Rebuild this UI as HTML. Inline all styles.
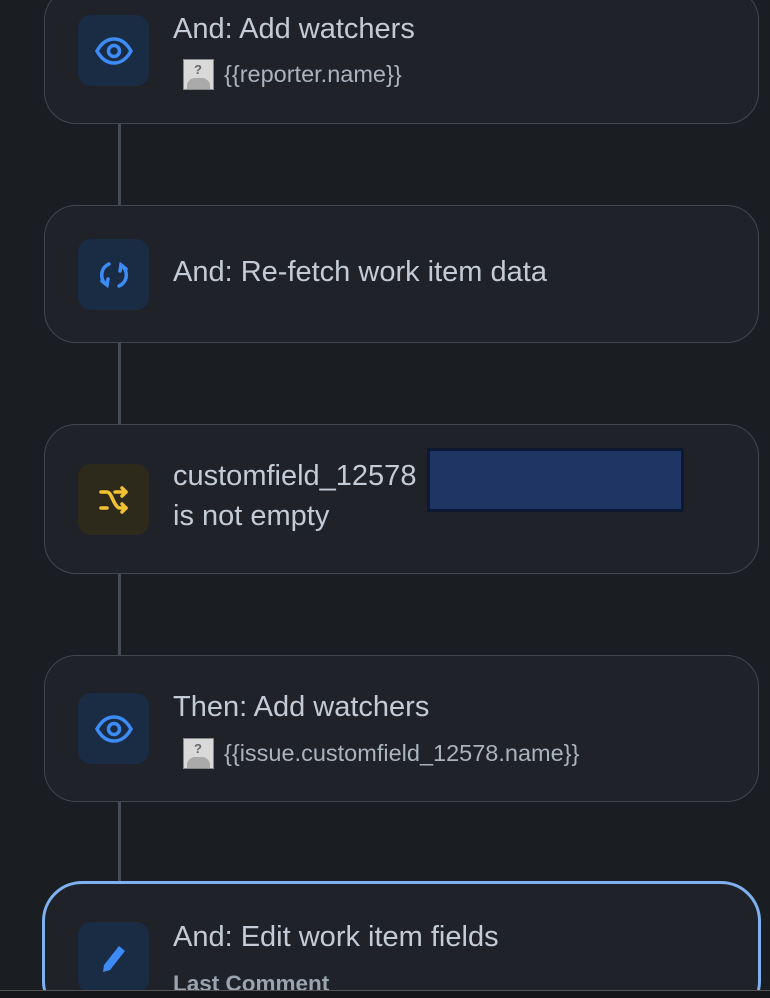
<!DOCTYPE html>
<html style="overflow:hidden;height:998px"><head><meta charset="utf-8"><style>
html,body{overflow:hidden}
body{margin:0;width:770px;height:998px;background:#1a1d21;position:relative;overflow:hidden;font-family:"Liberation Sans",sans-serif;color:#c3ccd6}
.line{position:absolute;left:118px;width:3px;background:#454c55}
.card{position:absolute;left:44px;width:715px;background:#1f2228;border:1.5px solid #41464f;border-radius:32px;box-sizing:border-box}
.ic{position:absolute;left:33px;width:71px;height:71px;border-radius:13px;background:#1a2b44;display:flex;align-items:center;justify-content:center}
.t{position:absolute;left:128px;font-size:29px;white-space:nowrap}
.s{position:absolute;left:138px;font-size:23.5px;color:#aab4bf;display:flex;align-items:center;gap:10px;white-space:nowrap}
.av{width:31px;height:31px;background:#d9d9d9;border:1px solid #888;box-sizing:border-box;position:relative;overflow:hidden;flex:none}
.av:after{content:"?";position:absolute;left:10px;top:2px;font-size:13px;color:#666;font-weight:bold}
.av:before{content:"";position:absolute;left:3px;top:18px;width:23px;height:16px;background:#aaa;border-radius:8px 8px 0 0}
</style></head><body>
<div class="line" style="top:120px;height:90px"></div>
<div class="line" style="top:340px;height:90px"></div>
<div class="line" style="top:570px;height:90px"></div>
<div class="line" style="top:800px;height:85px"></div>

<div class="card" style="top:-12px;height:136px">
<div class="ic" style="top:26px"><svg width="40" height="40" viewBox="0 0 40 40"><path d="M3 20C8 11 14 8 20 8s12 3 17 12c-5 9-11 12-17 12S8 29 3 20z" fill="none" stroke="#3d8cf5" stroke-width="3.5"/><circle cx="20" cy="20" r="5.5" fill="none" stroke="#3d8cf5" stroke-width="3.5"/></svg></div>
<div class="t" style="top:24px">And: Add watchers</div>
<div class="s" style="top:70px"><div class="av"></div>{{reporter.name}}</div>
</div>

<div class="card" style="top:205px;height:138px">
<div class="ic" style="top:33px"><svg width="36" height="36" viewBox="0 0 36 36" fill="none" stroke="#3d8cf5" stroke-width="3.5" stroke-linecap="round"><path d="M13 7A12 12 0 0 0 11 28"/><path d="M23 29A12 12 0 0 0 25 8"/><path d="M6 24l5 4 1-6"/><path d="M30 12l-5-4-1 6"/></svg></div>
<div class="t" style="top:50px">And: Re-fetch work item data</div>
</div>

<div class="card" style="top:424px;height:150px">
<div class="ic" style="top:39px;background:#2e2a1b"><svg width="36" height="36" viewBox="0 0 36 36" fill="none" stroke="#f2c230" stroke-width="3.5" stroke-linecap="round" stroke-linejoin="round"><path d="M5 10h6c5 0 7 16 13 16h6"/><path d="M5 26h6M19 10h11"/><path d="M26 6l4 4-4 4M26 22l4 4-4 4"/></svg></div>
<div class="t" style="top:35px">customfield_12578</div>
<div class="t" style="top:75px">is not empty</div>
<div style="position:absolute;left:382px;top:23px;width:257px;height:64px;background:#0d1833;box-sizing:border-box;border:3px solid #0d1833"><div style="width:100%;height:100%;background:#1f3563"></div></div>
</div>

<div class="card" style="top:655px;height:147px">
<div class="ic" style="top:37px"><svg width="40" height="40" viewBox="0 0 40 40"><path d="M3 20C8 11 14 8 20 8s12 3 17 12c-5 9-11 12-17 12S8 29 3 20z" fill="none" stroke="#3d8cf5" stroke-width="3.5"/><circle cx="20" cy="20" r="5.5" fill="none" stroke="#3d8cf5" stroke-width="3.5"/></svg></div>
<div class="t" style="top:35px">Then: Add watchers</div>
<div class="s" style="top:82px"><div class="av"></div>{{issue.customfield_12578.name}}</div>
</div>

<div class="card" style="top:881px;left:42px;width:719px;height:140px;border:3px solid #7fb1f0;border-radius:40px">
<div class="ic" style="top:38px;left:33px"><svg width="36" height="36" viewBox="0 0 36 36"><path d="M23 6l6 5-15 19-7 2 1-7z" fill="#3d8cf5"/></svg></div>
<div class="t" style="top:37px">And: Edit work item fields</div>
<div style="position:absolute;left:128px;top:87px;font-size:22.5px;font-weight:bold;color:#9aa4af;white-space:nowrap">Last Comment</div>
</div>
<div style="position:absolute;left:0;top:990px;width:770px;height:8px;background:#141619;border-top:1px solid #555"></div>
</body></html>
